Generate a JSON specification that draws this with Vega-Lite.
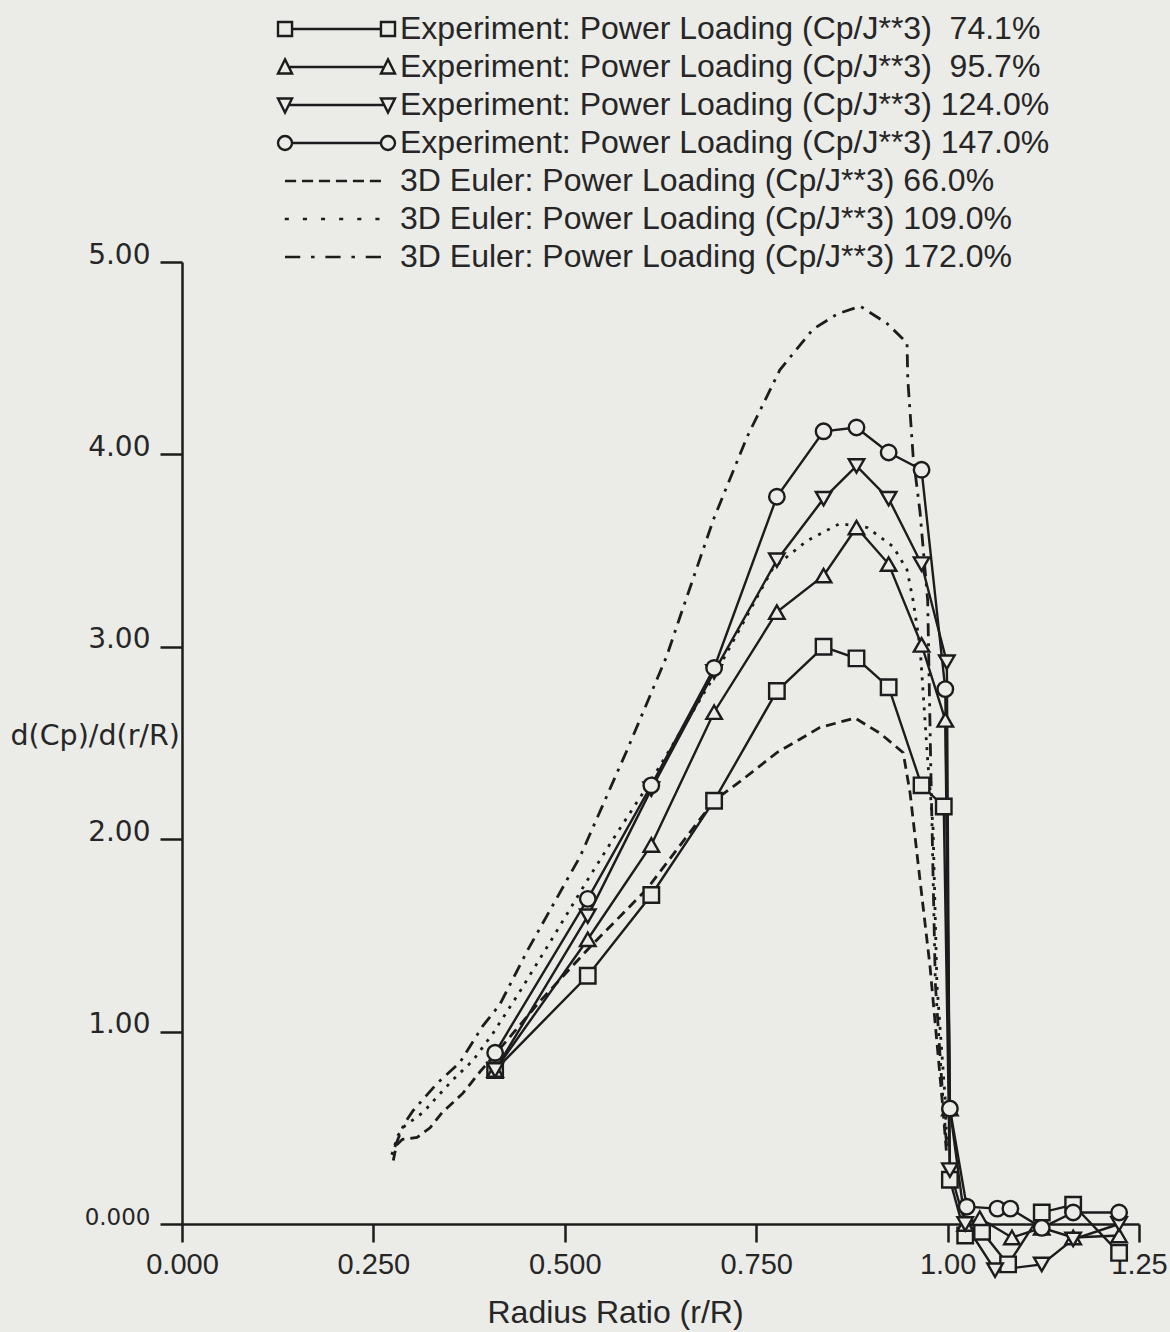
{
  "$schema": "https://vega.github.io/schema/vega-lite/v6.json",
  "width": 957,
  "height": 962,
  "autosize": {"type": "none"},
  "padding": {"left": 182, "top": 262, "right": 31, "bottom": 108},
  "background": "#ebebe8",
  "config": {"view": {"stroke": null}},
  "data": {"values": [
    {"series": "Experiment: Power Loading (Cp/J**3)\u00a0 74.1%", "k": "exp", "x": 0.409, "y": 0.80},
    {"series": "Experiment: Power Loading (Cp/J**3)\u00a0 74.1%", "k": "exp", "x": 0.530, "y": 1.29},
    {"series": "Experiment: Power Loading (Cp/J**3)\u00a0 74.1%", "k": "exp", "x": 0.613, "y": 1.71},
    {"series": "Experiment: Power Loading (Cp/J**3)\u00a0 74.1%", "k": "exp", "x": 0.695, "y": 2.20},
    {"series": "Experiment: Power Loading (Cp/J**3)\u00a0 74.1%", "k": "exp", "x": 0.777, "y": 2.77},
    {"series": "Experiment: Power Loading (Cp/J**3)\u00a0 74.1%", "k": "exp", "x": 0.838, "y": 3.00},
    {"series": "Experiment: Power Loading (Cp/J**3)\u00a0 74.1%", "k": "exp", "x": 0.881, "y": 2.94},
    {"series": "Experiment: Power Loading (Cp/J**3)\u00a0 74.1%", "k": "exp", "x": 0.923, "y": 2.79},
    {"series": "Experiment: Power Loading (Cp/J**3)\u00a0 74.1%", "k": "exp", "x": 0.966, "y": 2.28},
    {"series": "Experiment: Power Loading (Cp/J**3)\u00a0 74.1%", "k": "exp", "x": 0.995, "y": 2.17},
    {"series": "Experiment: Power Loading (Cp/J**3)\u00a0 74.1%", "k": "exp", "x": 1.003, "y": 0.23},
    {"series": "Experiment: Power Loading (Cp/J**3)\u00a0 74.1%", "k": "exp", "x": 1.023, "y": -0.06},
    {"series": "Experiment: Power Loading (Cp/J**3)\u00a0 74.1%", "k": "exp", "x": 1.045, "y": -0.04},
    {"series": "Experiment: Power Loading (Cp/J**3)\u00a0 74.1%", "k": "exp", "x": 1.079, "y": -0.21},
    {"series": "Experiment: Power Loading (Cp/J**3)\u00a0 74.1%", "k": "exp", "x": 1.123, "y": 0.06},
    {"series": "Experiment: Power Loading (Cp/J**3)\u00a0 74.1%", "k": "exp", "x": 1.164, "y": 0.10},
    {"series": "Experiment: Power Loading (Cp/J**3)\u00a0 74.1%", "k": "exp", "x": 1.224, "y": -0.15},

    {"series": "Experiment: Power Loading (Cp/J**3)\u00a0 95.7%", "k": "exp", "x": 0.409, "y": 0.80},
    {"series": "Experiment: Power Loading (Cp/J**3)\u00a0 95.7%", "k": "exp", "x": 0.530, "y": 1.48},
    {"series": "Experiment: Power Loading (Cp/J**3)\u00a0 95.7%", "k": "exp", "x": 0.613, "y": 1.97},
    {"series": "Experiment: Power Loading (Cp/J**3)\u00a0 95.7%", "k": "exp", "x": 0.695, "y": 2.66},
    {"series": "Experiment: Power Loading (Cp/J**3)\u00a0 95.7%", "k": "exp", "x": 0.777, "y": 3.18},
    {"series": "Experiment: Power Loading (Cp/J**3)\u00a0 95.7%", "k": "exp", "x": 0.838, "y": 3.37},
    {"series": "Experiment: Power Loading (Cp/J**3)\u00a0 95.7%", "k": "exp", "x": 0.881, "y": 3.62},
    {"series": "Experiment: Power Loading (Cp/J**3)\u00a0 95.7%", "k": "exp", "x": 0.923, "y": 3.43},
    {"series": "Experiment: Power Loading (Cp/J**3)\u00a0 95.7%", "k": "exp", "x": 0.966, "y": 3.01},
    {"series": "Experiment: Power Loading (Cp/J**3)\u00a0 95.7%", "k": "exp", "x": 0.997, "y": 2.62},
    {"series": "Experiment: Power Loading (Cp/J**3)\u00a0 95.7%", "k": "exp", "x": 1.003, "y": 0.60},
    {"series": "Experiment: Power Loading (Cp/J**3)\u00a0 95.7%", "k": "exp", "x": 1.023, "y": 0.00},
    {"series": "Experiment: Power Loading (Cp/J**3)\u00a0 95.7%", "k": "exp", "x": 1.042, "y": 0.03},
    {"series": "Experiment: Power Loading (Cp/J**3)\u00a0 95.7%", "k": "exp", "x": 1.084, "y": -0.07},
    {"series": "Experiment: Power Loading (Cp/J**3)\u00a0 95.7%", "k": "exp", "x": 1.123, "y": -0.02},
    {"series": "Experiment: Power Loading (Cp/J**3)\u00a0 95.7%", "k": "exp", "x": 1.164, "y": -0.07},
    {"series": "Experiment: Power Loading (Cp/J**3)\u00a0 95.7%", "k": "exp", "x": 1.224, "y": -0.06},

    {"series": "Experiment: Power Loading (Cp/J**3) 124.0%", "k": "exp", "x": 0.409, "y": 0.80},
    {"series": "Experiment: Power Loading (Cp/J**3) 124.0%", "k": "exp", "x": 0.530, "y": 1.60},
    {"series": "Experiment: Power Loading (Cp/J**3) 124.0%", "k": "exp", "x": 0.613, "y": 2.26},
    {"series": "Experiment: Power Loading (Cp/J**3) 124.0%", "k": "exp", "x": 0.695, "y": 2.87},
    {"series": "Experiment: Power Loading (Cp/J**3) 124.0%", "k": "exp", "x": 0.777, "y": 3.45},
    {"series": "Experiment: Power Loading (Cp/J**3) 124.0%", "k": "exp", "x": 0.838, "y": 3.77},
    {"series": "Experiment: Power Loading (Cp/J**3) 124.0%", "k": "exp", "x": 0.881, "y": 3.94},
    {"series": "Experiment: Power Loading (Cp/J**3) 124.0%", "k": "exp", "x": 0.923, "y": 3.77},
    {"series": "Experiment: Power Loading (Cp/J**3) 124.0%", "k": "exp", "x": 0.966, "y": 3.43},
    {"series": "Experiment: Power Loading (Cp/J**3) 124.0%", "k": "exp", "x": 0.999, "y": 2.92},
    {"series": "Experiment: Power Loading (Cp/J**3) 124.0%", "k": "exp", "x": 1.003, "y": 0.28},
    {"series": "Experiment: Power Loading (Cp/J**3) 124.0%", "k": "exp", "x": 1.023, "y": 0.00},
    {"series": "Experiment: Power Loading (Cp/J**3) 124.0%", "k": "exp", "x": 1.062, "y": -0.24},
    {"series": "Experiment: Power Loading (Cp/J**3) 124.0%", "k": "exp", "x": 1.123, "y": -0.21},
    {"series": "Experiment: Power Loading (Cp/J**3) 124.0%", "k": "exp", "x": 1.164, "y": -0.08},
    {"series": "Experiment: Power Loading (Cp/J**3) 124.0%", "k": "exp", "x": 1.224, "y": 0.00},

    {"series": "Experiment: Power Loading (Cp/J**3) 147.0%", "k": "exp", "x": 0.409, "y": 0.89},
    {"series": "Experiment: Power Loading (Cp/J**3) 147.0%", "k": "exp", "x": 0.530, "y": 1.69},
    {"series": "Experiment: Power Loading (Cp/J**3) 147.0%", "k": "exp", "x": 0.613, "y": 2.28},
    {"series": "Experiment: Power Loading (Cp/J**3) 147.0%", "k": "exp", "x": 0.695, "y": 2.89},
    {"series": "Experiment: Power Loading (Cp/J**3) 147.0%", "k": "exp", "x": 0.777, "y": 3.78},
    {"series": "Experiment: Power Loading (Cp/J**3) 147.0%", "k": "exp", "x": 0.838, "y": 4.12},
    {"series": "Experiment: Power Loading (Cp/J**3) 147.0%", "k": "exp", "x": 0.881, "y": 4.14},
    {"series": "Experiment: Power Loading (Cp/J**3) 147.0%", "k": "exp", "x": 0.923, "y": 4.01},
    {"series": "Experiment: Power Loading (Cp/J**3) 147.0%", "k": "exp", "x": 0.966, "y": 3.92},
    {"series": "Experiment: Power Loading (Cp/J**3) 147.0%", "k": "exp", "x": 0.997, "y": 2.78},
    {"series": "Experiment: Power Loading (Cp/J**3) 147.0%", "k": "exp", "x": 1.003, "y": 0.60},
    {"series": "Experiment: Power Loading (Cp/J**3) 147.0%", "k": "exp", "x": 1.025, "y": 0.09},
    {"series": "Experiment: Power Loading (Cp/J**3) 147.0%", "k": "exp", "x": 1.065, "y": 0.08},
    {"series": "Experiment: Power Loading (Cp/J**3) 147.0%", "k": "exp", "x": 1.082, "y": 0.08},
    {"series": "Experiment: Power Loading (Cp/J**3) 147.0%", "k": "exp", "x": 1.123, "y": -0.02},
    {"series": "Experiment: Power Loading (Cp/J**3) 147.0%", "k": "exp", "x": 1.164, "y": 0.06},
    {"series": "Experiment: Power Loading (Cp/J**3) 147.0%", "k": "exp", "x": 1.224, "y": 0.06},

    {"series": "3D Euler: Power Loading (Cp/J**3) 66.0%", "k": "euler", "x": 0.276, "y": 0.33},
    {"series": "3D Euler: Power Loading (Cp/J**3) 66.0%", "k": "euler", "x": 0.280, "y": 0.41},
    {"series": "3D Euler: Power Loading (Cp/J**3) 66.0%", "k": "euler", "x": 0.288, "y": 0.44},
    {"series": "3D Euler: Power Loading (Cp/J**3) 66.0%", "k": "euler", "x": 0.307, "y": 0.45},
    {"series": "3D Euler: Power Loading (Cp/J**3) 66.0%", "k": "euler", "x": 0.324, "y": 0.50},
    {"series": "3D Euler: Power Loading (Cp/J**3) 66.0%", "k": "euler", "x": 0.340, "y": 0.58},
    {"series": "3D Euler: Power Loading (Cp/J**3) 66.0%", "k": "euler", "x": 0.367, "y": 0.68},
    {"series": "3D Euler: Power Loading (Cp/J**3) 66.0%", "k": "euler", "x": 0.389, "y": 0.79},
    {"series": "3D Euler: Power Loading (Cp/J**3) 66.0%", "k": "euler", "x": 0.430, "y": 0.98},
    {"series": "3D Euler: Power Loading (Cp/J**3) 66.0%", "k": "euler", "x": 0.468, "y": 1.16},
    {"series": "3D Euler: Power Loading (Cp/J**3) 66.0%", "k": "euler", "x": 0.533, "y": 1.44},
    {"series": "3D Euler: Power Loading (Cp/J**3) 66.0%", "k": "euler", "x": 0.607, "y": 1.74},
    {"series": "3D Euler: Power Loading (Cp/J**3) 66.0%", "k": "euler", "x": 0.695, "y": 2.20},
    {"series": "3D Euler: Power Loading (Cp/J**3) 66.0%", "k": "euler", "x": 0.729, "y": 2.30},
    {"series": "3D Euler: Power Loading (Cp/J**3) 66.0%", "k": "euler", "x": 0.777, "y": 2.45},
    {"series": "3D Euler: Power Loading (Cp/J**3) 66.0%", "k": "euler", "x": 0.833, "y": 2.58},
    {"series": "3D Euler: Power Loading (Cp/J**3) 66.0%", "k": "euler", "x": 0.879, "y": 2.63},
    {"series": "3D Euler: Power Loading (Cp/J**3) 66.0%", "k": "euler", "x": 0.912, "y": 2.55},
    {"series": "3D Euler: Power Loading (Cp/J**3) 66.0%", "k": "euler", "x": 0.942, "y": 2.45},
    {"series": "3D Euler: Power Loading (Cp/J**3) 66.0%", "k": "euler", "x": 0.951, "y": 2.24},
    {"series": "3D Euler: Power Loading (Cp/J**3) 66.0%", "k": "euler", "x": 0.961, "y": 1.89},
    {"series": "3D Euler: Power Loading (Cp/J**3) 66.0%", "k": "euler", "x": 0.977, "y": 1.34},
    {"series": "3D Euler: Power Loading (Cp/J**3) 66.0%", "k": "euler", "x": 0.993, "y": 0.64},
    {"series": "3D Euler: Power Loading (Cp/J**3) 66.0%", "k": "euler", "x": 0.999, "y": 0.35},

    {"series": "3D Euler: Power Loading (Cp/J**3) 109.0%", "k": "euler", "x": 0.274, "y": 0.36},
    {"series": "3D Euler: Power Loading (Cp/J**3) 109.0%", "k": "euler", "x": 0.282, "y": 0.46},
    {"series": "3D Euler: Power Loading (Cp/J**3) 109.0%", "k": "euler", "x": 0.291, "y": 0.51},
    {"series": "3D Euler: Power Loading (Cp/J**3) 109.0%", "k": "euler", "x": 0.315, "y": 0.58},
    {"series": "3D Euler: Power Loading (Cp/J**3) 109.0%", "k": "euler", "x": 0.333, "y": 0.66},
    {"series": "3D Euler: Power Loading (Cp/J**3) 109.0%", "k": "euler", "x": 0.354, "y": 0.75},
    {"series": "3D Euler: Power Loading (Cp/J**3) 109.0%", "k": "euler", "x": 0.380, "y": 0.85},
    {"series": "3D Euler: Power Loading (Cp/J**3) 109.0%", "k": "euler", "x": 0.406, "y": 0.99},
    {"series": "3D Euler: Power Loading (Cp/J**3) 109.0%", "k": "euler", "x": 0.440, "y": 1.20},
    {"series": "3D Euler: Power Loading (Cp/J**3) 109.0%", "k": "euler", "x": 0.480, "y": 1.46},
    {"series": "3D Euler: Power Loading (Cp/J**3) 109.0%", "k": "euler", "x": 0.530, "y": 1.79},
    {"series": "3D Euler: Power Loading (Cp/J**3) 109.0%", "k": "euler", "x": 0.563, "y": 2.00},
    {"series": "3D Euler: Power Loading (Cp/J**3) 109.0%", "k": "euler", "x": 0.615, "y": 2.32},
    {"series": "3D Euler: Power Loading (Cp/J**3) 109.0%", "k": "euler", "x": 0.694, "y": 2.84},
    {"series": "3D Euler: Power Loading (Cp/J**3) 109.0%", "k": "euler", "x": 0.772, "y": 3.41},
    {"series": "3D Euler: Power Loading (Cp/J**3) 109.0%", "k": "euler", "x": 0.816, "y": 3.55},
    {"series": "3D Euler: Power Loading (Cp/J**3) 109.0%", "k": "euler", "x": 0.859, "y": 3.64},
    {"series": "3D Euler: Power Loading (Cp/J**3) 109.0%", "k": "euler", "x": 0.895, "y": 3.62},
    {"series": "3D Euler: Power Loading (Cp/J**3) 109.0%", "k": "euler", "x": 0.929, "y": 3.52},
    {"series": "3D Euler: Power Loading (Cp/J**3) 109.0%", "k": "euler", "x": 0.947, "y": 3.40},
    {"series": "3D Euler: Power Loading (Cp/J**3) 109.0%", "k": "euler", "x": 0.955, "y": 3.24},
    {"series": "3D Euler: Power Loading (Cp/J**3) 109.0%", "k": "euler", "x": 0.964, "y": 3.00},
    {"series": "3D Euler: Power Loading (Cp/J**3) 109.0%", "k": "euler", "x": 0.974, "y": 2.41},
    {"series": "3D Euler: Power Loading (Cp/J**3) 109.0%", "k": "euler", "x": 0.981, "y": 2.06},
    {"series": "3D Euler: Power Loading (Cp/J**3) 109.0%", "k": "euler", "x": 0.986, "y": 1.25},
    {"series": "3D Euler: Power Loading (Cp/J**3) 109.0%", "k": "euler", "x": 0.997, "y": 0.64},
    {"series": "3D Euler: Power Loading (Cp/J**3) 109.0%", "k": "euler", "x": 0.999, "y": 0.40},

    {"series": "3D Euler: Power Loading (Cp/J**3) 172.0%", "k": "euler", "x": 0.278, "y": 0.40},
    {"series": "3D Euler: Power Loading (Cp/J**3) 172.0%", "k": "euler", "x": 0.290, "y": 0.52},
    {"series": "3D Euler: Power Loading (Cp/J**3) 172.0%", "k": "euler", "x": 0.302, "y": 0.59},
    {"series": "3D Euler: Power Loading (Cp/J**3) 172.0%", "k": "euler", "x": 0.333, "y": 0.73},
    {"series": "3D Euler: Power Loading (Cp/J**3) 172.0%", "k": "euler", "x": 0.363, "y": 0.84},
    {"series": "3D Euler: Power Loading (Cp/J**3) 172.0%", "k": "euler", "x": 0.393, "y": 1.03},
    {"series": "3D Euler: Power Loading (Cp/J**3) 172.0%", "k": "euler", "x": 0.415, "y": 1.14},
    {"series": "3D Euler: Power Loading (Cp/J**3) 172.0%", "k": "euler", "x": 0.451, "y": 1.42},
    {"series": "3D Euler: Power Loading (Cp/J**3) 172.0%", "k": "euler", "x": 0.520, "y": 1.91},
    {"series": "3D Euler: Power Loading (Cp/J**3) 172.0%", "k": "euler", "x": 0.581, "y": 2.46},
    {"series": "3D Euler: Power Loading (Cp/J**3) 172.0%", "k": "euler", "x": 0.633, "y": 2.95},
    {"series": "3D Euler: Power Loading (Cp/J**3) 172.0%", "k": "euler", "x": 0.650, "y": 3.15},
    {"series": "3D Euler: Power Loading (Cp/J**3) 172.0%", "k": "euler", "x": 0.694, "y": 3.66},
    {"series": "3D Euler: Power Loading (Cp/J**3) 172.0%", "k": "euler", "x": 0.738, "y": 4.09},
    {"series": "3D Euler: Power Loading (Cp/J**3) 172.0%", "k": "euler", "x": 0.781, "y": 4.44},
    {"series": "3D Euler: Power Loading (Cp/J**3) 172.0%", "k": "euler", "x": 0.824, "y": 4.65},
    {"series": "3D Euler: Power Loading (Cp/J**3) 172.0%", "k": "euler", "x": 0.856, "y": 4.73},
    {"series": "3D Euler: Power Loading (Cp/J**3) 172.0%", "k": "euler", "x": 0.886, "y": 4.77},
    {"series": "3D Euler: Power Loading (Cp/J**3) 172.0%", "k": "euler", "x": 0.921, "y": 4.68},
    {"series": "3D Euler: Power Loading (Cp/J**3) 172.0%", "k": "euler", "x": 0.947, "y": 4.58},
    {"series": "3D Euler: Power Loading (Cp/J**3) 172.0%", "k": "euler", "x": 0.948, "y": 4.39},
    {"series": "3D Euler: Power Loading (Cp/J**3) 172.0%", "k": "euler", "x": 0.955, "y": 3.99},
    {"series": "3D Euler: Power Loading (Cp/J**3) 172.0%", "k": "euler", "x": 0.964, "y": 3.70},
    {"series": "3D Euler: Power Loading (Cp/J**3) 172.0%", "k": "euler", "x": 0.974, "y": 3.24},
    {"series": "3D Euler: Power Loading (Cp/J**3) 172.0%", "k": "euler", "x": 0.978, "y": 2.38},
    {"series": "3D Euler: Power Loading (Cp/J**3) 172.0%", "k": "euler", "x": 0.984, "y": 1.25},
    {"series": "3D Euler: Power Loading (Cp/J**3) 172.0%", "k": "euler", "x": 0.994, "y": 0.64},
    {"series": "3D Euler: Power Loading (Cp/J**3) 172.0%", "k": "euler", "x": 0.999, "y": 0.40}
  ]},
  "encoding": {
    "x": {"field": "x", "type": "quantitative",
      "scale": {"domain": [0, 1.25], "nice": false, "zero": false},
      "axis": {"values": [0, 0.25, 0.5, 0.75, 1, 1.25], "grid": false,
        "labelExpr": "datum.value < 1 ? format(datum.value, '.3f') : format(datum.value, '.2f')",
        "title": "Radius Ratio (r/R)", "titleFont": "Liberation Sans", "titleFontSize": 32, "titleFontWeight": "normal", "titleColor": "#262626",
        "titleX": 433, "titleY": 88, "titleBaseline": "middle", "titleAlign": "center",
        "labelFont": "Liberation Sans", "labelFontSize": 29, "labelColor": "#262626", "labelPadding": 8,
        "labelFlush": false, "labelOverlap": false,
        "tickSize": 18, "tickWidth": 2.5, "tickColor": "#1c1c1c",
        "domainWidth": 2.5, "domainColor": "#1c1c1c"}},
    "y": {"field": "y", "type": "quantitative",
      "scale": {"domain": [0, 5], "nice": false, "zero": false},
      "axis": {"values": [0, 1, 2, 3, 4, 5], "grid": false,
        "labelExpr": "datum.value == 0 ? '0.000' : format(datum.value, '.2f')",
        "title": "d(Cp)/d(r/R)", "titleFont": "DejaVu Sans", "titleFontSize": 28.5, "titleFontWeight": "normal", "titleColor": "#262626",
        "titleAngle": 0, "titleX": -172, "titleY": 473, "titleAlign": "left", "titleBaseline": "middle",
        "labelFont": "DejaVu Sans", "labelColor": "#262626", "labelPadding": 10, "labelOffset": -7,
        "labelFontSize": {"condition": {"test": "datum.value == 0", "value": 23}, "value": 28},
        "labelFlush": false, "labelOverlap": false,
        "tickSize": 22, "tickWidth": 2.5, "tickColor": "#1c1c1c",
        "domainWidth": 2.5, "domainColor": "#1c1c1c"}}
  },
  "layer": [
    {
      "transform": [{"filter": "datum.k == 'euler'"}],
      "mark": {"type": "line", "color": "#1c1c1c", "strokeWidth": 2.8},
      "encoding": {
        "strokeDash": {"field": "series", "type": "nominal",
          "scale": {"domain": ["3D Euler: Power Loading (Cp/J**3) 66.0%", "3D Euler: Power Loading (Cp/J**3) 109.0%", "3D Euler: Power Loading (Cp/J**3) 172.0%"],
                    "range": [[10, 6], [3, 7], [13, 7, 3, 7]]},
          "legend": null}
      }
    },
    {
      "transform": [{"filter": "datum.k == 'exp'"}],
      "mark": {"type": "line", "color": "#1c1c1c", "strokeWidth": 2.4},
      "encoding": {"detail": {"field": "series", "type": "nominal"}}
    },
    {
      "transform": [{"filter": "datum.k == 'exp'"}],
      "mark": {"type": "point", "filled": true, "fill": "#ebebe8", "stroke": "#1c1c1c", "strokeWidth": 2.4, "size": 240, "opacity": 1},
      "encoding": {
        "shape": {"field": "series", "type": "nominal",
          "scale": {"domain": ["Experiment: Power Loading (Cp/J**3)\u00a0 74.1%", "Experiment: Power Loading (Cp/J**3)\u00a0 95.7%", "Experiment: Power Loading (Cp/J**3) 124.0%", "Experiment: Power Loading (Cp/J**3) 147.0%"],
                    "range": ["square", "triangle-up", "triangle-down", "circle"]},
          "legend": null}
      }
    },
    {
      "mark": {"type": "point", "opacity": 0},
      "encoding": {
        "shape": {"field": "series", "type": "nominal",
          "scale": {"domain": [
            "Experiment: Power Loading (Cp/J**3)\u00a0 74.1%",
            "Experiment: Power Loading (Cp/J**3)\u00a0 95.7%",
            "Experiment: Power Loading (Cp/J**3) 124.0%",
            "Experiment: Power Loading (Cp/J**3) 147.0%",
            "3D Euler: Power Loading (Cp/J**3) 66.0%",
            "3D Euler: Power Loading (Cp/J**3) 109.0%",
            "3D Euler: Power Loading (Cp/J**3) 172.0%"],
            "range": [
              "M-4.034,-0.484H-3.066V0.484H-4.034Z M-3.066,0H3.066 M3.066,-0.484H4.034V0.484H3.066Z",
              "M-3.55,-0.524L-3.066,0.444H-4.034Z M-3.227,0H3.227 M3.55,-0.524L4.034,0.444H3.066Z",
              "M-4.034,-0.444H-3.066L-3.55,0.524Z M-3.308,0H3.308 M3.066,-0.444H4.034L3.55,0.524Z",
              "M-3.066,0C-3.066,0.267 -3.283,0.484 -3.55,0.484C-3.817,0.484 -4.034,0.267 -4.034,0C-4.034,-0.267 -3.817,-0.484 -3.55,-0.484C-3.283,-0.484 -3.066,-0.267 -3.066,0Z M-3.066,0H3.066 M4.034,0C4.034,0.267 3.817,0.484 3.55,0.484C3.283,0.484 3.066,0.267 3.066,0C3.066,-0.267 3.283,-0.484 3.55,-0.484C3.817,-0.484 4.034,-0.267 4.034,0Z",
              "M-3.55,0H-2.783M-2.38,0H-1.614M-1.21,0H-0.444M-0.04,0H0.726M1.13,0H1.896M2.3,0H3.066",
              "M-3.57,0H-3.288M-2.32,0H-2.037M-1.069,0H-0.787M0.182,0H0.464M1.432,0H1.714M2.683,0H2.965",
              "M-3.55,0H-2.501M-1.755,0H-1.513M-0.766,0H0.282M1.029,0H1.271M2.017,0H3.066"
            ]},
          "legend": {
            "orient": "none", "legendX": 138.5, "legendY": -249, "direction": "vertical",
            "title": null, "padding": 0,
            "labelFont": "Liberation Sans", "labelFontSize": 32, "labelColor": "#262626",
            "labelLimit": 2000, "labelOffset": 47.5, "rowPadding": 6,
            "symbolSize": 841, "symbolStrokeWidth": 2.4, "symbolStrokeColor": "#1c1c1c",
            "symbolFillColor": "transparent", "symbolOpacity": 1,
            "encode": {"symbols": {"opacity": {"value": 1}, "fill": {"value": "transparent"}, "stroke": {"value": "#1c1c1c"}, "strokeWidth": {"value": 2.4}, "size": {"value": 841}}}
          }
        }
      }
    }
  ],
  "resolve": {"scale": {"shape": "independent"}, "legend": {"shape": "independent"}}
}
